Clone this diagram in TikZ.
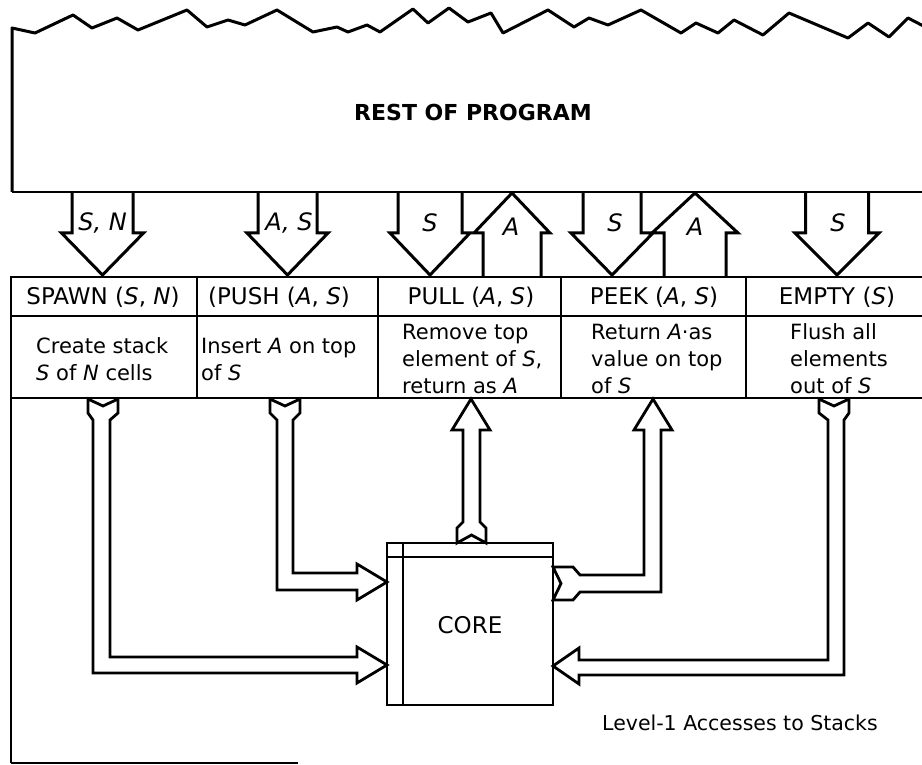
\documentclass[tikz,border=0pt]{standalone}
\usepackage{fontspec}
\setmainfont{DejaVu Sans}
\newcommand\DArr[3]{\draw[bigarrow] ({#1-#2},192) -- ({#1-#2},233) -- ({#1-#3},233) -- (#1,275) -- ({#1+#3},233) -- ({#1+#2},233) -- ({#1+#2},192);}
\newcommand\UArr[3]{\draw[bigarrow] ({#1-#2},277) -- ({#1-#2},233) -- ({#1-#3},233) -- (#1,193) -- ({#1+#3},233) -- ({#1+#2},233) -- ({#1+#2},277);}
\begin{document}
\begin{tikzpicture}[x=1pt,y=-1pt,
  frame/.style={line width=2.2pt},
  pipe/.style={line width=2.8pt, line join=miter, fill=white},
  bigarrow/.style={line width=3pt, line join=miter},
  hdr/.style={font=\fontsize{23}{26}\selectfont, anchor=base, inner sep=0pt},
  desc/.style={font=\fontsize{21}{27}\selectfont, anchor=west, align=left, inner sep=0pt},
  lbl/.style={font=\fontsize{24}{26}\selectfont\itshape, anchor=base, inner sep=0pt}]
\useasboundingbox (0,0) rectangle (922,765);
\clip (0,0) rectangle (922,765);
\fill[white] (0,0) rectangle (922,765);

% rest of program (top box with torn edge)
\draw[line width=3pt, line join=round] (12,192) -- (12,28) -- (35,33) -- (73,15) -- (92,28) -- (117,18) -- (138,30) -- (187,10) -- (207,27) -- (228,20) -- (245,25) -- (277,10) -- (313,32) -- (337,27) -- (348,32) -- (367,25) -- (380,32) -- (413,9) -- (428,23) -- (449,8) -- (468,22) -- (491,13) -- (503,33) -- (548,10) -- (574,27) -- (589,18) -- (608,25) -- (641,10) -- (681,33) -- (696,23) -- (718,33) -- (734,20) -- (763,35) -- (789,13) -- (848,38) -- (868,23) -- (889,37) -- (908,18) -- (935,32);
\draw[line width=2.8pt] (12,192) -- (935,192);
\node[font=\bfseries\fontsize{22}{26}\selectfont] (rest) at (473,112) {REST OF PROGRAM};

% table and frame
\draw[frame] (11,763) -- (11,277) -- (935,277);
\draw[frame] (11,316) -- (935,316);
\draw[frame] (11,398) -- (935,398);
\draw[frame] (11,763) -- (298,763);
\foreach \cx in {197,378,561,746} \draw[frame] (\cx,277) -- (\cx,398);

% access arrows from the rest of the program
\DArr{102.5}{30.5}{41}
\DArr{287.5}{29.5}{40.5}
\DArr{430}{32}{40}
\UArr{512}{29}{38}
\DArr{612}{29}{41}
\UArr{695}{31}{43}
\DArr{837}{31.5}{42}
\node[lbl] (l1) at (102.5,230) {S, N};
\node[lbl] (l2) at (289,230) {A, S};
\node[lbl] (l3) at (430,232) {S};
\node[lbl] (l4) at (511,236) {A};
\node[lbl] (l5) at (615,232) {S};
\node[lbl] (l6) at (695,236) {A};
\node[lbl] (l7) at (838,232) {S};

% headers
\node[hdr] (h1) at (103,305) {SPAWN (\textit{S}, \textit{N})};
\node[hdr] (h2) at (279,305) {(PUSH (\textit{A}, \textit{S})};
\node[hdr] (h3) at (471,305) {PULL (\textit{A}, \textit{S})};
\node[hdr] (h4) at (654,305) {PEEK (\textit{A}, \textit{S})};
\node[hdr] (h5) at (837,305) {EMPTY (\textit{S})};

% descriptions
\node[desc] (d1) at (36,359) {Create stack\\\textit{S} of \textit{N} cells};
\node[desc] (d2) at (201,359) {Insert \textit{A} on top\\of \textit{S}};
\node[desc] (d3) at (402,359) {Remove top\\element of \textit{S},\\return as \textit{A}};
\node[desc] (d4) at (591,359) {Return \textit{A}·as\\value on top\\of \textit{S}};
\node[desc] (d5) at (790,359) {Flush all\\elements\\out of \textit{S}};

% core
\draw[line width=2.4pt] (387,543) rectangle (553,705);
\draw[line width=2.4pt] (387,557) -- (553,557);
\draw[line width=2.4pt] (403,543) -- (403,705);
\node[font=\fontsize{23}{26}\selectfont] (core) at (470,625) {CORE};

% hollow connectors
\draw[pipe] (88,399) -- (103,406) -- (118,399) -- (118,413) -- (110,420) -- (110,657) -- (357,657) -- (357,647) -- (387,665) -- (357,683) -- (357,673) -- (93,673) -- (93,420) -- (88,413) -- cycle;
\draw[pipe] (270,399) -- (285,406) -- (300,399) -- (300,413) -- (293,420) -- (293,573) -- (357,573) -- (357,564) -- (387,582) -- (357,600) -- (357,590) -- (277,590) -- (277,420) -- (270,413) -- cycle;
\draw[pipe] (471,399) -- (490,430) -- (480,430) -- (480,522) -- (486,528) -- (486,543) -- (471.5,535) -- (457,543) -- (457,528) -- (463,522) -- (463,430) -- (452,430) -- cycle;
\draw[pipe] (653,399) -- (672,430) -- (661,430) -- (661,592) -- (580,592) -- (573,600) -- (553,600) -- (561,583.5) -- (553,567) -- (573,567) -- (580,575) -- (644,575) -- (644,430) -- (634,430) -- cycle;
\draw[pipe] (819,399) -- (834,406) -- (849,399) -- (849,413) -- (844,420) -- (844,675) -- (579,675) -- (579,684) -- (553,666) -- (579,648) -- (579,660) -- (828,660) -- (828,420) -- (819,413) -- cycle;

\node[font=\fontsize{20.5}{24}\selectfont] (cap) at (740,723) {Level-1 Accesses to Stacks};
\end{tikzpicture}
\end{document}
